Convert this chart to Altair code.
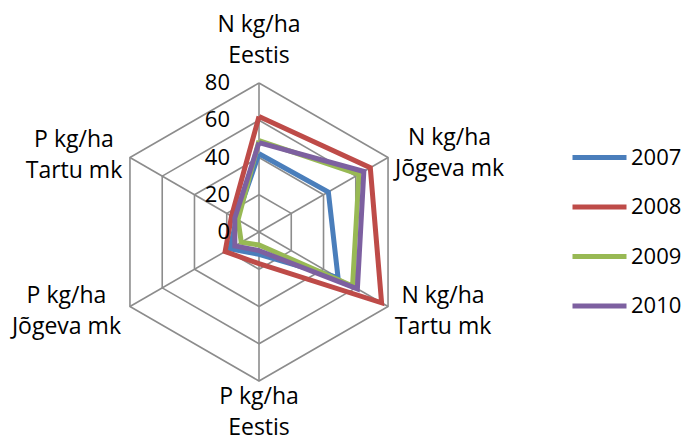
import altair as alt
import pandas as pd

# ---- data ----
axis_names = ["N kg/ha\nEestis", "N kg/ha\nJõgeva mk", "N kg/ha\nTartu mk",
              "P kg/ha\nEestis", "P kg/ha\nJõgeva mk", "P kg/ha\nTartu mk"]
years = ["2007", "2008", "2009", "2010"]
v2007 = [42, 43, 49, 12, 18, 14]
v2008 = [62, 69, 76, 17, 21, 17]
v2009 = [49, 62, 58, 7, 11, 13]
v2010 = [48, 65, 61, 10, 15, 15]
tick_values = [0, 20, 40, 60, 80]
colors = ["#4a7ebb", "#be4b48", "#98b954", "#7d60a0"]

# ---- layout ----
W, H = 673, 430
CX, CY = 251, 224          # centre of the radar in plot pixels
R = 149                    # pixel radius of the max value
VMAX = 80
FONT = "Open Sans"
label_dx = [0, 61.5, 55, 0, -63.5, -56]
label_dy = [58, 19.5, 10.5, -16, 10.5, 17.5]

series = [v2007, v2008, v2009, v2010]
rows = []
for y, vals in zip(years, series):
    for k in range(len(vals) + 1):
        rows.append({"year": y, "idx": k % len(vals), "value": vals[k % len(vals)], "ord": k})
lines_df = pd.DataFrame(rows)

ring_rows = []
for t in tick_values[1:]:
    for k in range(7):
        ring_rows.append({"ring": t, "idx": k % 6, "value": t, "ord": k})
rings_df = pd.DataFrame(ring_rows)

spoke_rows = []
for i in range(6):
    spoke_rows.append({"idx": i, "value": 0, "ord": 0})
    spoke_rows.append({"idx": i, "value": VMAX, "ord": 1})
spokes_df = pd.DataFrame(spoke_rows)

labels_df = pd.DataFrame({"label": axis_names, "idx": list(range(6)),
                          "ddx": label_dx, "ddy": label_dy})
ticks_df = pd.DataFrame({"t": tick_values, "txt": [str(t) for t in tick_values]})

xs = alt.Scale(domain=[-CX, W - CX], nice=False, zero=False)
ys = alt.Scale(domain=[-(H - CY), CY], nice=False, zero=False)


def polar(ch, value_field="value"):
    return ch.transform_calculate(
        ang="datum.idx * PI / 3",
        px=f"datum.{value_field} / {VMAX} * {R} * sin(datum.ang)",
        py=f"datum.{value_field} / {VMAX} * {R} * cos(datum.ang)",
    )


X = alt.X("px:Q", scale=xs, axis=None)
Y = alt.Y("py:Q", scale=ys, axis=None)

rings = polar(alt.Chart(rings_df)).mark_line(color="#8c8c8c", strokeWidth=1.6).encode(
    x=X, y=Y, detail="ring:N", order="ord:Q")

spokes = polar(alt.Chart(spokes_df)).mark_line(color="#8c8c8c", strokeWidth=1.6).encode(
    x=X, y=Y, detail="idx:N", order="ord:Q")

data_lines = polar(alt.Chart(lines_df)).mark_line(strokeWidth=5, strokeJoin="miter").encode(
    x=X, y=Y,
    color=alt.Color("year:N", scale=alt.Scale(domain=years, range=colors),
                    legend=alt.Legend(title=None, orient="none", legendX=562, legendY=120,
                                      symbolType="stroke", symbolSize=2916,
                                      symbolStrokeWidth=5, labelFont=FONT,
                                      labelFontSize=22, labelColor="black",
                                      rowPadding=8.5, labelOffset=2, padding=0)),
    order="ord:Q")

tick_text = alt.Chart(ticks_df).transform_calculate(
    px="0", py=f"datum.t / {VMAX} * {R}"
).mark_text(align="right", baseline="middle", dx=-29, font=FONT, fontSize=22,
            color="black").encode(x=X, y=Y, text="txt:N")

axis_text = alt.Chart(labels_df).transform_calculate(
    ang="datum.idx * PI / 3",
    px=f"{R} * sin(datum.ang) + datum.ddx",
    py=f"{R} * cos(datum.ang) + datum.ddy",
).mark_text(align="center", baseline="middle", lineBreak="\n", lineHeight=31,
            font=FONT, fontSize=23, color="black").encode(x=X, y=Y, text="label:N")

chart = alt.layer(rings, spokes, data_lines, tick_text, axis_text).properties(
    width=W, height=H, padding=0, autosize=alt.AutoSizeParams(type="none")
).configure_view(stroke=None)

chart.save("out.html", embed_options={"renderer": "svg", "actions": False})
